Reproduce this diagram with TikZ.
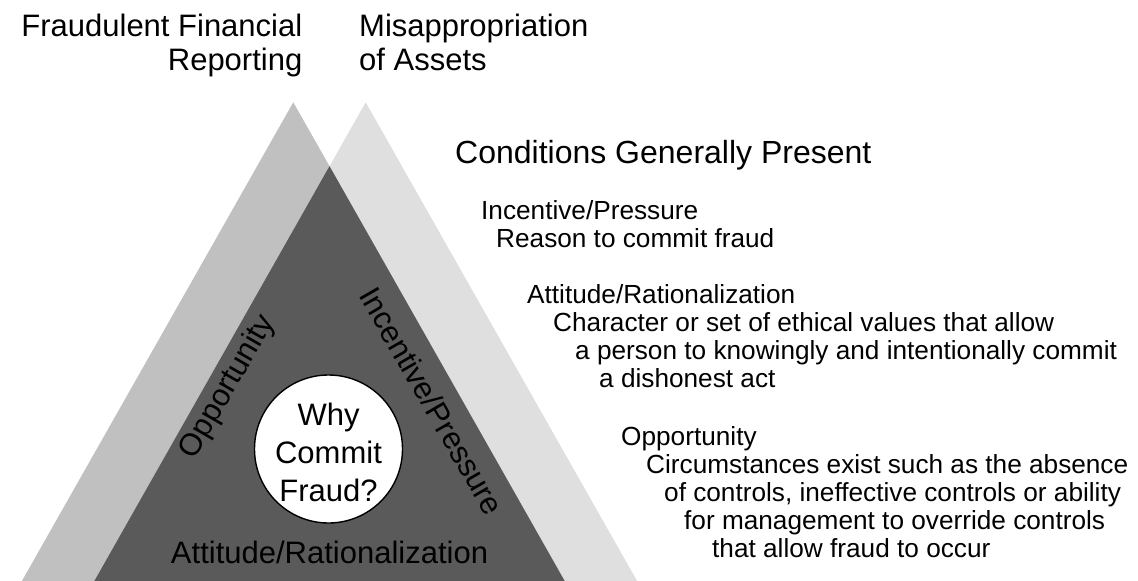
\documentclass[tikz,border=0pt]{standalone}
\usepackage{fontspec}
\setmainfont{Liberation Sans}
\begin{document}
\begin{tikzpicture}[x=1pt,y=-1pt,
  bigtxt/.style={font=\fontsize{31}{34}\selectfont, inner sep=0pt},
  headtxt/.style={font=\fontsize{32}{34}\selectfont, inner sep=0pt, anchor=base west},
  smalltxt/.style={font=\fontsize{26.2}{28}\selectfont, inner sep=0pt, anchor=base west},
  sidetxt/.style={font=\fontsize{31}{34}\selectfont, inner sep=0pt}]
\useasboundingbox (0,0) rectangle (1138,581);
\definecolor{ffrgray}{HTML}{C0C0C0}
\definecolor{moagray}{HTML}{DFDFDF}
\definecolor{coregray}{HTML}{5A5A5A}

% apexes and base corners of the two triangles
\coordinate (ffrTop) at (293.3,102.3);
\coordinate (ffrL) at (21.9,581);
\coordinate (ffrR) at (564.7,581);
\coordinate (moaTop) at (365.7,102.3);
\coordinate (moaL) at (94.3,581);
\coordinate (moaR) at (637.1,581);
\coordinate (coreTop) at (329.5,166.1);

\fill[ffrgray] (ffrTop) -- (ffrR) -- (ffrL) -- cycle;
\fill[moagray] (moaTop) -- (moaR) -- (moaL) -- cycle;
\fill[coregray] (coreTop) -- (ffrR) -- (moaL) -- cycle;

% central circle
\node[circle, draw=black, line width=1.4pt, fill=white, minimum size=148pt, inner sep=0pt] (why) at (328.5,449) {};
\node[bigtxt, anchor=base] (why1) at (328.5,425) {Why};
\node[bigtxt, anchor=base] (why2) at (328.5,463) {Commit};
\node[bigtxt, anchor=base] (why3) at (328.5,501.5) {Fraud?};

% labels along the sides of the core triangle
\node[sidetxt, rotate=60] (opp) at (228,387) {Opportunity};
\node[sidetxt, rotate=-60] (inc) at (432,401) {Incentive/Pressure};
\node[sidetxt, anchor=base] (att) at (329.5,563) {Attitude/Rationalization};

% headings above the triangles
\node[bigtxt, anchor=base east] (ffr1) at (302.5,36) {Fraudulent Financial};
\node[bigtxt, anchor=base east] (ffr2) at (302.5,70.5) {Reporting};
\node[bigtxt, anchor=base west] (moa1) at (359,36) {Misappropriation};
\node[bigtxt, anchor=base west] (moa2) at (359,70.5) {of Assets};

% list of conditions
\node[headtxt] (cond) at (455,163) {Conditions Generally Present};
\node[smalltxt] (c1) at (481,219) {Incentive/Pressure};
\node[smalltxt] (c2) at (496,247) {Reason to commit fraud};
\node[smalltxt] (c3) at (527,303) {Attitude/Rationalization};
\node[smalltxt] (c4) at (553,331) {Character or set of ethical values that allow};
\node[smalltxt] (c5) at (575,359) {a person to knowingly and intentionally commit};
\node[smalltxt] (c6) at (599,387) {a dishonest act};
\node[smalltxt] (c7) at (621,445) {Opportunity};
\node[smalltxt] (c8) at (646,473) {Circumstances exist such as the absence};
\node[smalltxt] (c9) at (664,501) {of controls, ineffective controls or ability};
\node[smalltxt] (c10) at (684,529) {for management to override controls};
\node[smalltxt] (c11) at (712,557) {that allow fraud to occur};
\end{tikzpicture}
\end{document}
